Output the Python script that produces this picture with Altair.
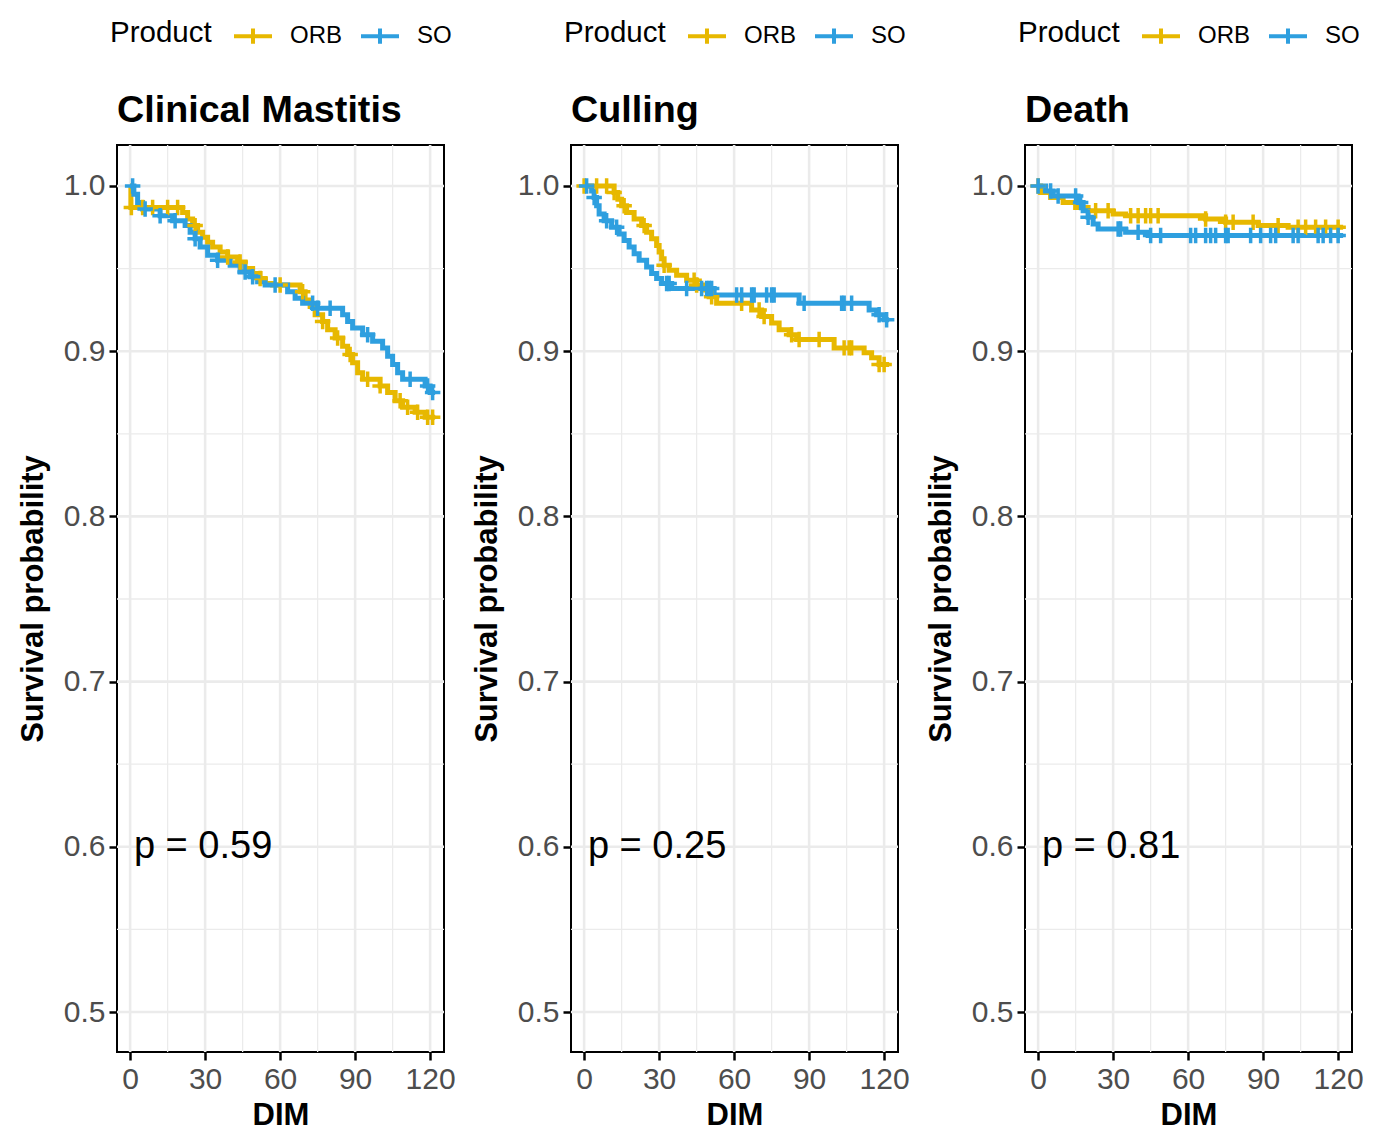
import altair as alt
import numpy as np
import pandas as pd

# Panels, test results and groups
outcomes = ["Clinical Mastitis", "Culling", "Death"]
p_labels = ["p = 0.59", "p = 0.25", "p = 0.81"]
products = ["ORB", "SO"]
product_colors = ["#E7B800", "#2E9FDF"]

# Axis breaks
x_breaks = [0, 30, 60, 90, 120]
x_minor = [15, 45, 75, 105]
y_breaks = [0.5, 0.6, 0.7, 0.8, 0.9, 1.0]
y_minor = [0.55, 0.65, 0.75, 0.85, 0.95]
followup_end = 122

# Kaplan-Meier estimates: step days, survival after each step, censoring days
cm_orb_t = [0, 0.3, 21, 23, 25, 27, 29, 31, 33, 36, 39, 43, 46, 49, 52, 54, 57, 68, 70, 72,
            74, 77, 79, 82, 85, 87, 89, 91, 93, 100, 103, 106, 109, 114, 118]
cm_orb_s = [1.0, 0.987, 0.984, 0.980, 0.976, 0.972, 0.969, 0.966, 0.963, 0.960, 0.957, 0.954,
            0.950, 0.947, 0.944, 0.941, 0.940, 0.936, 0.931, 0.927, 0.922, 0.918, 0.913, 0.908,
            0.903, 0.898, 0.893, 0.887, 0.883, 0.879, 0.875, 0.870, 0.866, 0.863, 0.860]
cm_orb_c = [0.5, 5, 9, 15, 19, 26, 39, 44, 52, 60, 69, 77, 83, 88, 95, 100, 108, 111, 115, 119, 121]

cm_so_t = [0, 1.5, 3, 5, 12, 17, 22, 24, 26, 28, 31, 35, 40, 44, 48, 51, 54, 63, 66, 69, 75,
           85, 87, 89, 93, 97, 101, 103, 105, 107, 109, 118, 120]
cm_so_s = [1.0, 0.995, 0.990, 0.986, 0.982, 0.979, 0.976, 0.972, 0.968, 0.963, 0.958, 0.955,
           0.952, 0.948, 0.945, 0.942, 0.940, 0.936, 0.932, 0.929, 0.926, 0.922, 0.918, 0.914,
           0.910, 0.906, 0.902, 0.897, 0.892, 0.887, 0.883, 0.879, 0.875]
cm_so_c = [1, 6, 12, 18, 26, 35, 46, 49, 58, 73, 75, 80, 95, 112, 119, 121]

cu_orb_t = [0, 12, 13.5, 15, 17, 20, 23, 25, 27, 29, 30, 31, 32, 34, 37, 41, 45, 48, 50, 53,
            67, 71, 75, 78, 82, 85, 100, 112, 115, 118]
cu_orb_s = [1.0, 0.996, 0.992, 0.988, 0.984, 0.980, 0.976, 0.972, 0.968, 0.964, 0.960, 0.956,
            0.952, 0.949, 0.946, 0.943, 0.940, 0.937, 0.933, 0.929, 0.925, 0.921, 0.917, 0.913,
            0.910, 0.907, 0.902, 0.899, 0.896, 0.892]
cu_orb_c = [0, 5, 9, 12, 16, 24, 32, 44, 45, 51, 63, 70, 72, 83, 86, 94, 104, 106, 107, 118, 120]

cu_so_t = [0, 3, 4, 5, 6, 8, 11, 14, 16, 18, 20, 22, 25, 27, 29, 31, 35, 52, 86, 114, 117, 120]
cu_so_s = [1.0, 0.997, 0.993, 0.988, 0.983, 0.979, 0.975, 0.971, 0.967, 0.963, 0.959, 0.955,
           0.951, 0.947, 0.944, 0.941, 0.938, 0.934, 0.929, 0.925, 0.922, 0.919]
cu_so_c = [1, 4, 9, 13, 33, 34, 41, 47, 49, 50, 51, 61, 63, 67, 68, 73, 75, 76, 88, 103, 104,
           107, 118, 121]

de_orb_t = [0, 1, 5, 10, 15, 20, 30, 35, 67, 75, 88, 100]
de_orb_s = [1.0, 0.996, 0.993, 0.990, 0.987, 0.985, 0.983, 0.982, 0.980, 0.978, 0.976, 0.975]
de_orb_c = [0, 23, 28, 37, 40, 43, 45, 48, 67, 75, 78, 86, 96, 104, 107, 111, 115, 120]

de_so_t = [0, 3, 6, 16, 18, 20, 22, 24, 35, 44]
de_so_s = [1.0, 0.997, 0.994, 0.990, 0.985, 0.981, 0.977, 0.974, 0.972, 0.970]
de_so_c = [0, 5, 8, 15, 17, 20, 32, 33, 40, 45, 49, 61, 63, 67, 69, 71, 75, 76, 85, 89, 93, 95,
           102, 104, 112, 114, 117, 120]

curves = {
    "Clinical Mastitis": {"ORB": (cm_orb_t, cm_orb_s, cm_orb_c), "SO": (cm_so_t, cm_so_s, cm_so_c)},
    "Culling": {"ORB": (cu_orb_t, cu_orb_s, cu_orb_c), "SO": (cu_so_t, cu_so_s, cu_so_c)},
    "Death": {"ORB": (de_orb_t, de_orb_s, de_orb_c), "SO": (de_so_t, de_so_s, de_so_c)},
}

FONT = "Liberation Sans"
PLUS = "M-1,0H1M0,-1V1"
KEY = "M-1,0H1M0,-0.4V0.4"

x_scale = alt.Scale(domain=[-5.25, 125.55], nice=False, zero=False)
y_scale = alt.Scale(domain=[0.4758, 1.0248], nice=False, zero=False)
color_scale = alt.Scale(domain=products, range=product_colors)
x_axis = alt.Axis(values=x_breaks, title="DIM", format="d")
y_axis = alt.Axis(values=y_breaks, title="Survival probability", format=".1f")


def build_tables(outcome):
    steps, marks = [], []
    for prod in products:
        t, s, c = curves[outcome][prod]
        for ti, si in zip(t, s):
            steps.append({"day": ti, "surv": si, "Product": prod})
        steps.append({"day": followup_end, "surv": s[-1], "Product": prod})
        t_arr = np.asarray(t, dtype=float)
        for ci in c:
            idx = int(np.searchsorted(t_arr, ci, side="right")) - 1
            marks.append({"day": ci, "surv": s[idx], "Product": prod})
    return pd.DataFrame(steps), pd.DataFrame(marks)


def panel(outcome, p_label):
    steps, marks = build_tables(outcome)

    def xq(field):
        return alt.X(field, scale=x_scale, axis=x_axis)

    def yq(field):
        return alt.Y(field, scale=y_scale, axis=y_axis)

    minor_x = alt.Chart(pd.DataFrame({"v": x_minor})).mark_rule(
        color="#ebebeb", strokeWidth=1.3
    ).encode(x=xq("v:Q"))
    major_x = alt.Chart(pd.DataFrame({"v": x_breaks})).mark_rule(
        color="#ebebeb", strokeWidth=2.6
    ).encode(x=xq("v:Q"))
    minor_y = alt.Chart(pd.DataFrame({"v": y_minor})).mark_rule(
        color="#ebebeb", strokeWidth=1.3
    ).encode(y=yq("v:Q"))
    major_y = alt.Chart(pd.DataFrame({"v": y_breaks})).mark_rule(
        color="#ebebeb", strokeWidth=2.6
    ).encode(y=yq("v:Q"))

    lines = alt.Chart(steps).mark_line(
        interpolate="step-after", strokeWidth=5
    ).encode(
        x=xq("day:Q"),
        y=yq("surv:Q"),
        color=alt.Color(
            "Product:N", scale=color_scale,
            legend=alt.Legend(
                orient="none", legendX=-7, legendY=-130, direction="horizontal",
                title="Product", titleOrient="left", titleFontSize=29.5,
                titleFontWeight="normal", titleColor="black", titleFont=FONT,
                titlePadding=20,
                labelFontSize=24, labelColor="black", labelFont=FONT, labelOffset=16,
                columnPadding=10, symbolType=KEY, symbolSize=1444, symbolStrokeWidth=4,
            ),
        ),
        order=alt.Order("day:Q"),
    )

    censors = alt.Chart(marks).mark_point(
        shape=PLUS, size=240, strokeWidth=3.5, filled=False, opacity=1
    ).encode(
        x=xq("day:Q"),
        y=yq("surv:Q"),
        color=alt.Color("Product:N", scale=color_scale, legend=None),
    )

    ptext = alt.Chart(pd.DataFrame({"day": [1.5], "surv": [0.6], "label": [p_label]})).mark_text(
        align="left", baseline="middle", fontSize=38, font=FONT, color="black"
    ).encode(
        x=xq("day:Q"),
        y=yq("surv:Q"),
        text="label:N",
    )

    # panel heading sits between the legend and the plot frame
    heading = alt.Chart(pd.DataFrame({"label": [outcome]})).mark_text(
        align="left", baseline="alphabetic", fontSize=37.7, fontWeight="bold",
        font=FONT, color="black",
    ).encode(x=alt.value(0), y=alt.value(-23), text="label:N")

    return alt.layer(
        minor_x, minor_y, major_x, major_y, lines, censors, ptext, heading
    ).properties(width=327, height=907)


chart = alt.hconcat(
    *[panel(o, p) for o, p in zip(outcomes, p_labels)], spacing=13
).resolve_legend(color="independent").configure(
    font=FONT,
    background="white",
    padding={"left": 16, "top": 14, "right": 4, "bottom": 4},
).configure_view(
    stroke="black", strokeWidth=2
).configure_axis(
    grid=False, domain=False, tickColor="black", tickWidth=2.5, tickSize=8,
    labelFont=FONT, labelFontSize=30, labelColor="#4d4d4d", labelPadding=4,
    titleFont=FONT, titleFontSize=31, titleFontWeight="bold", titleColor="black",
).configure_axisY(
    titlePadding=14
).configure_axisX(
    titlePadding=6
)

chart.save("out.html", embed_options={"renderer": "svg", "actions": False})
